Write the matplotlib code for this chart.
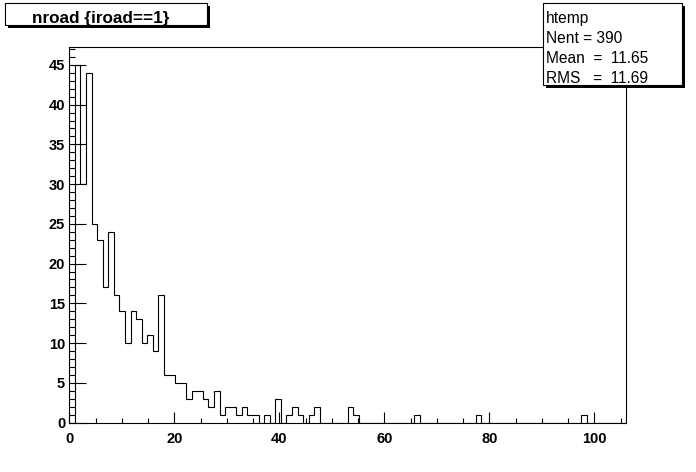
import numpy as np
import matplotlib
matplotlib.use("Agg")
import matplotlib.pyplot as plt
from matplotlib.patches import Rectangle

# histogram "htemp": 100 bins over [0, 106]
xmin, xmax, nbins = 0., 106., 100
counts = [0, 45, 30, 44, 25, 23, 17, 24, 16, 14,
          10, 14, 13, 10, 11, 9, 16, 6, 6, 5,
          5, 3, 4, 4, 3, 2, 4, 1, 2, 2,
          1, 2, 1, 1, 0, 1, 0, 3, 0, 1,
          2, 1, 0, 1, 2, 0, 0, 0, 0, 0,
          2, 1, 0, 0, 0, 0, 0, 0, 0, 0,
          0, 0, 1, 0, 0, 0, 0, 0, 0, 0,
          0, 0, 0, 1, 0, 0, 0, 0, 0, 0,
          0, 0, 0, 0, 0, 0, 0, 0, 0, 0,
          0, 0, 1, 0, 0, 0, 0, 0, 0, 0]
title = 'nroad {iroad==1}'
stat_lines = ['htemp', 'Nent = 390', 'Mean  =  11.65', 'RMS   =  11.69']

plt.rcParams['font.family'] = ['Liberation Sans', 'DejaVu Sans']

W, H = 696, 472
fig = plt.figure(figsize=[W / 100., H / 100.], dpi=100)
fig.patch.set_facecolor('white')


def fx(x):
    return x / W


def fy(y):
    return 1. - y / H


# frame in pixels: left 69, right 626, top 47, bottom 422.5
ax = fig.add_axes([fx(69.3), fy(422.5), fx(626 - 69.3), (422.5 - 47) / H])

edges = np.linspace(xmin, xmax, nbins + 1)
ax.stairs(counts, edges, baseline=0, fill=False, color='black', lw=0.8)

ax.set_xlim(xmin, xmax)
ax.set_ylim(0, 1.05 * max(counts))

ax.set_xticks(np.arange(0, 101, 20))
ax.set_xticks(np.arange(0, 106, 5), minor=True)
ax.set_yticks(np.arange(0, 46, 5))
ax.set_yticks(np.arange(0, 48, 1), minor=True)

ax.tick_params(axis='both', which='both', direction='in', top=False, right=False,
               width=0.8, labelsize=10.5)
ax.tick_params(axis='x', which='major', length=8, pad=7)
ax.tick_params(axis='x', which='minor', length=3.6)
ax.tick_params(axis='y', which='major', length=12.3, pad=3)
ax.tick_params(axis='y', which='minor', length=4)
for lab in ax.get_xticklabels() + ax.get_yticklabels():
    lab.set_fontweight('bold')
for sp in ax.spines.values():
    sp.set_linewidth(0.8)


def shadow_box(x0, y0, x1, y1, d=3):
    # ROOT-style box with a black drop shadow, coords in pixels
    fig.patches.append(Rectangle((fx(x0 + d), fy(y1 + d)), fx(x1 - x0), (y1 - y0) / H,
                                 transform=fig.transFigure, facecolor='black',
                                 edgecolor='black', lw=0, zorder=5))
    fig.patches.append(Rectangle((fx(x0), fy(y1)), fx(x1 - x0), (y1 - y0) / H,
                                 transform=fig.transFigure, facecolor='white',
                                 edgecolor='black', lw=0.8, zorder=6))


# title box
shadow_box(5, 3, 207, 25)
fig.text(fx(101), fy(22.5), title, ha='center', va='baseline',
         fontsize=12.3, fontweight='bold', zorder=7)

# stats box
shadow_box(542.5, 3, 681.5, 85)
for i, s in enumerate(stat_lines):
    fig.text(fx(545.5), fy(23 + 20 * i), s, ha='left', va='baseline',
             fontsize=11.2, zorder=7)

fig.savefig('out.png', dpi=100)
plt.close(fig)
